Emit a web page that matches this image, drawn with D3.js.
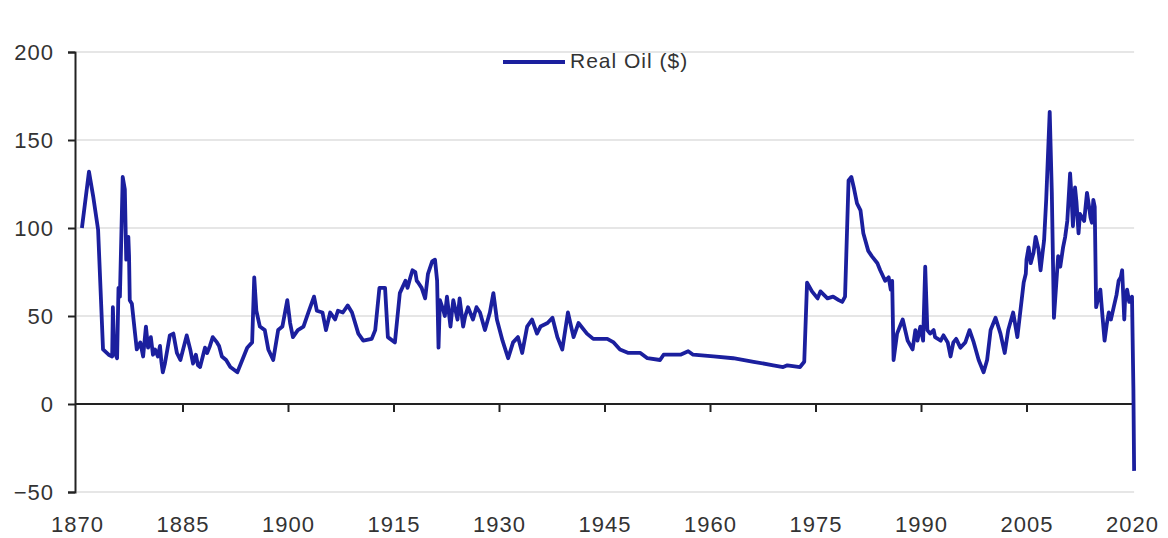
<!DOCTYPE html>
<html>
<head>
<meta charset="utf-8">
<script src="https://cdn.jsdelivr.net/npm/d3@7"></script>
<style>
  body { margin: 0; background: #fff; }
</style>
</head>
<body>
<div id="line-chart"></div>
<script>
// Data: [year, real oil price in $]
const realOil = [
  [1870.7, 100], [1871.7, 132], [1872.3, 118], [1873.0, 99], [1873.7, 31], [1874.5, 28],
  [1875.0, 27], [1875.1, 55], [1875.3, 30], [1875.7, 26], [1875.9, 66], [1876.1, 61],
  [1876.5, 129], [1876.8, 122], [1877.0, 82], [1877.3, 95], [1877.4, 84], [1877.5, 59],
  [1877.8, 57], [1878.2, 42], [1878.5, 31], [1879.0, 35], [1879.4, 27], [1879.8, 44],
  [1880.1, 32], [1880.5, 38], [1880.8, 28], [1881.1, 31], [1881.5, 27], [1881.8, 33],
  [1882.0, 24], [1882.2, 18], [1882.5, 23], [1883.2, 39], [1883.7, 40], [1884.2, 29],
  [1884.7, 25], [1885.6, 39], [1886.1, 31], [1886.5, 23], [1886.9, 28], [1887.2, 22],
  [1887.5, 21], [1888.2, 32], [1888.5, 29], [1888.9, 33], [1889.3, 38], [1889.9, 35],
  [1890.2, 33], [1890.6, 27], [1891.2, 25], [1891.8, 21], [1892.8, 18], [1893.4, 24],
  [1894.2, 32], [1894.9, 35], [1895.2, 72], [1895.5, 53], [1896.0, 44], [1896.7, 42],
  [1897.2, 31], [1897.9, 25], [1898.6, 42], [1899.2, 44], [1899.9, 59], [1900.3, 46],
  [1900.7, 38], [1901.4, 42], [1902.2, 44], [1902.9, 52], [1903.7, 61], [1904.1, 53],
  [1904.9, 52], [1905.4, 42], [1906.0, 52], [1906.7, 48], [1907.1, 53], [1907.8, 52],
  [1908.5, 56], [1909.1, 52], [1910.0, 40], [1910.7, 36], [1911.9, 37], [1912.4, 42],
  [1913.0, 66], [1913.8, 66], [1914.2, 38], [1915.2, 35], [1915.9, 63], [1916.7, 70],
  [1917.0, 66], [1917.4, 72], [1917.7, 76], [1918.1, 75], [1918.3, 70], [1918.5, 69],
  [1919.0, 66], [1919.5, 60], [1919.9, 74], [1920.5, 81], [1920.9, 82], [1921.2, 70],
  [1921.4, 32], [1921.6, 59], [1922.1, 53], [1922.3, 50], [1922.6, 61], [1923.1, 44],
  [1923.3, 52], [1923.5, 59], [1924.1, 48], [1924.4, 60], [1924.9, 44], [1925.2, 50],
  [1925.6, 55], [1926.3, 48], [1926.8, 55], [1927.3, 52], [1928.0, 42], [1928.7, 52],
  [1929.2, 63], [1929.7, 48], [1930.5, 36], [1931.3, 26], [1932.0, 35], [1932.7, 38],
  [1933.3, 29], [1934.0, 44], [1934.7, 48], [1935.4, 40], [1935.9, 44], [1936.9, 46],
  [1937.6, 49], [1938.3, 38], [1939.0, 31], [1939.8, 52], [1940.6, 38], [1941.3, 46],
  [1942.5, 40], [1943.4, 37], [1945.4, 37], [1946.3, 35], [1947.2, 31], [1948.4, 29],
  [1950.1, 29], [1951.1, 26], [1952.9, 25], [1953.4, 28], [1955.8, 28], [1956.9, 30],
  [1957.6, 28], [1960.5, 27], [1963.3, 26], [1966.2, 24], [1969.0, 22], [1970.4, 21],
  [1971.0, 22], [1972.8, 21], [1973.4, 24], [1973.8, 69], [1974.5, 64], [1975.3, 60],
  [1975.7, 64], [1976.7, 60], [1977.5, 61], [1978.3, 59], [1978.8, 58], [1979.2, 61],
  [1979.7, 127], [1980.1, 129], [1980.5, 122], [1980.9, 114], [1981.4, 110], [1981.8, 97],
  [1982.5, 87], [1983.0, 84], [1983.8, 80], [1984.2, 76], [1984.9, 70], [1985.4, 72],
  [1985.7, 65], [1985.9, 70], [1986.1, 25], [1986.6, 40], [1987.0, 44], [1987.4, 48],
  [1988.1, 36], [1988.8, 31], [1989.2, 42], [1989.5, 36], [1989.9, 44], [1990.3, 36],
  [1990.6, 78], [1990.9, 42], [1991.3, 40], [1991.8, 42], [1992.0, 38], [1992.8, 36],
  [1993.2, 39], [1993.8, 35], [1994.2, 27], [1994.6, 35], [1995.0, 37], [1995.6, 32],
  [1996.3, 35], [1996.9, 42], [1997.5, 35], [1998.2, 25], [1998.9, 18], [1999.4, 25],
  [1999.9, 42], [2000.6, 49], [2001.3, 40], [2001.9, 29], [2002.4, 42], [2003.1, 52],
  [2003.7, 38], [2004.6, 69], [2004.9, 74], [2005.0, 82], [2005.3, 89], [2005.6, 80],
  [2006.0, 86], [2006.3, 95], [2006.7, 88], [2007.0, 76], [2007.2, 83], [2007.5, 93],
  [2007.8, 116], [2008.3, 166], [2008.6, 120], [2008.9, 49], [2009.5, 84], [2009.8, 78],
  [2010.2, 89], [2010.5, 95], [2010.8, 104], [2011.2, 131], [2011.4, 118], [2011.6, 101],
  [2011.9, 123], [2012.1, 115], [2012.4, 97], [2012.6, 108], [2012.9, 106], [2013.2, 104],
  [2013.6, 120], [2013.9, 112], [2014.1, 106], [2014.3, 103], [2014.5, 116], [2014.7, 112],
  [2014.9, 55], [2015.2, 60], [2015.5, 65], [2015.8, 50], [2016.1, 36], [2016.4, 45],
  [2016.7, 52], [2017.0, 48], [2017.4, 55], [2017.8, 62], [2018.1, 70], [2018.4, 72],
  [2018.6, 76], [2018.9, 48], [2019.0, 58], [2019.3, 65], [2019.6, 58], [2020.0, 61],
  [2020.2, 8], [2020.3, -38]
];

const yearTicks = [1870, 1885, 1900, 1915, 1930, 1945, 1960, 1975, 1990, 2005, 2020];
const valueTicks = [-50, 0, 50, 100, 150, 200];
const seriesName = "Real Oil ($)";

const drawLineChart = (data) => {
  const width = 1168;
  const height = 538;
  const blue = "#1b1f9e";
  const textColor = "#333";

  const svg = d3.select("#line-chart")
    .append("svg")
      .attr("width", width)
      .attr("height", height)
      .style("font-family", "'Liberation Sans', Arial, sans-serif");

  const xScale = d3.scaleLinear()
    .domain([1870, 2020])
    .range([77, 1132]);

  const yScale = d3.scaleLinear()
    .domain([-50, 200])
    .range([492, 52]);

  // light gridlines
  svg.append("g")
    .selectAll("line")
    .data(valueTicks.filter(d => d !== 0))
    .join("line")
      .attr("x1", xScale(1870))
      .attr("x2", xScale(2020.3))
      .attr("y1", d => yScale(d))
      .attr("y2", d => yScale(d))
      .attr("stroke", "#dedede")
      .attr("stroke-width", 1.5);

  // left axis
  const leftAxis = d3.axisLeft(yScale)
    .tickValues(valueTicks)
    .tickSize(7)
    .tickPadding(14);
  const axisY = svg.append("g")
    .attr("class", "axis-y")
    .attr("transform", `translate(${xScale(1870) - 2}, 0)`)
    .call(leftAxis);
  axisY.selectAll("path, line")
    .attr("stroke", "#222")
    .attr("stroke-width", 2);
  axisY.selectAll("text")
    .attr("fill", textColor)
    .style("font-size", "22px")
    .style("letter-spacing", "1px");

  // zero line with ticks pointing down
  const zeroAxis = d3.axisBottom(xScale)
    .tickValues(yearTicks.slice(1, -1))
    .tickSize(8)
    .tickSizeOuter(0)
    .tickFormat("");
  const axisZero = svg.append("g")
    .attr("class", "axis-zero")
    .attr("transform", `translate(0, ${yScale(0)})`)
    .call(zeroAxis);
  axisZero.select(".domain")
    .attr("d", `M${xScale(1870) - 2},0H${xScale(2020.3)}`);
  axisZero.selectAll("path, line")
    .attr("stroke", "#222")
    .attr("stroke-width", 2);

  // year labels under the chart
  const bottomAxis = d3.axisBottom(xScale)
    .tickValues(yearTicks)
    .tickSize(0)
    .tickPadding(24)
    .tickFormat(d3.format("d"));
  const axisX = svg.append("g")
    .attr("class", "axis-x")
    .attr("transform", `translate(0, ${yScale(-50)})`)
    .call(bottomAxis);
  axisX.select(".domain").remove();
  axisX.selectAll("text")
    .attr("fill", textColor)
    .style("font-size", "22px")
    .style("letter-spacing", "1px");

  // the series
  const lineGenerator = d3.line()
    .x(d => xScale(d[0]))
    .y(d => yScale(d[1]))
    .curve(d3.curveLinear);

  svg.append("path")
    .attr("d", lineGenerator(data))
    .attr("fill", "none")
    .attr("stroke", blue)
    .attr("stroke-width", 3.8)
    .attr("stroke-linejoin", "round");

  // legend
  svg.append("line")
    .attr("x1", 503)
    .attr("x2", 565)
    .attr("y1", 62)
    .attr("y2", 62)
    .attr("stroke", blue)
    .attr("stroke-width", 4);

  svg.append("text")
    .text(seriesName)
    .attr("x", 570)
    .attr("y", 62)
    .attr("dominant-baseline", "middle")
    .attr("fill", textColor)
    .style("font-size", "21px")
    .style("letter-spacing", "1px");
};

drawLineChart(realOil);
</script>
</body>
</html>
